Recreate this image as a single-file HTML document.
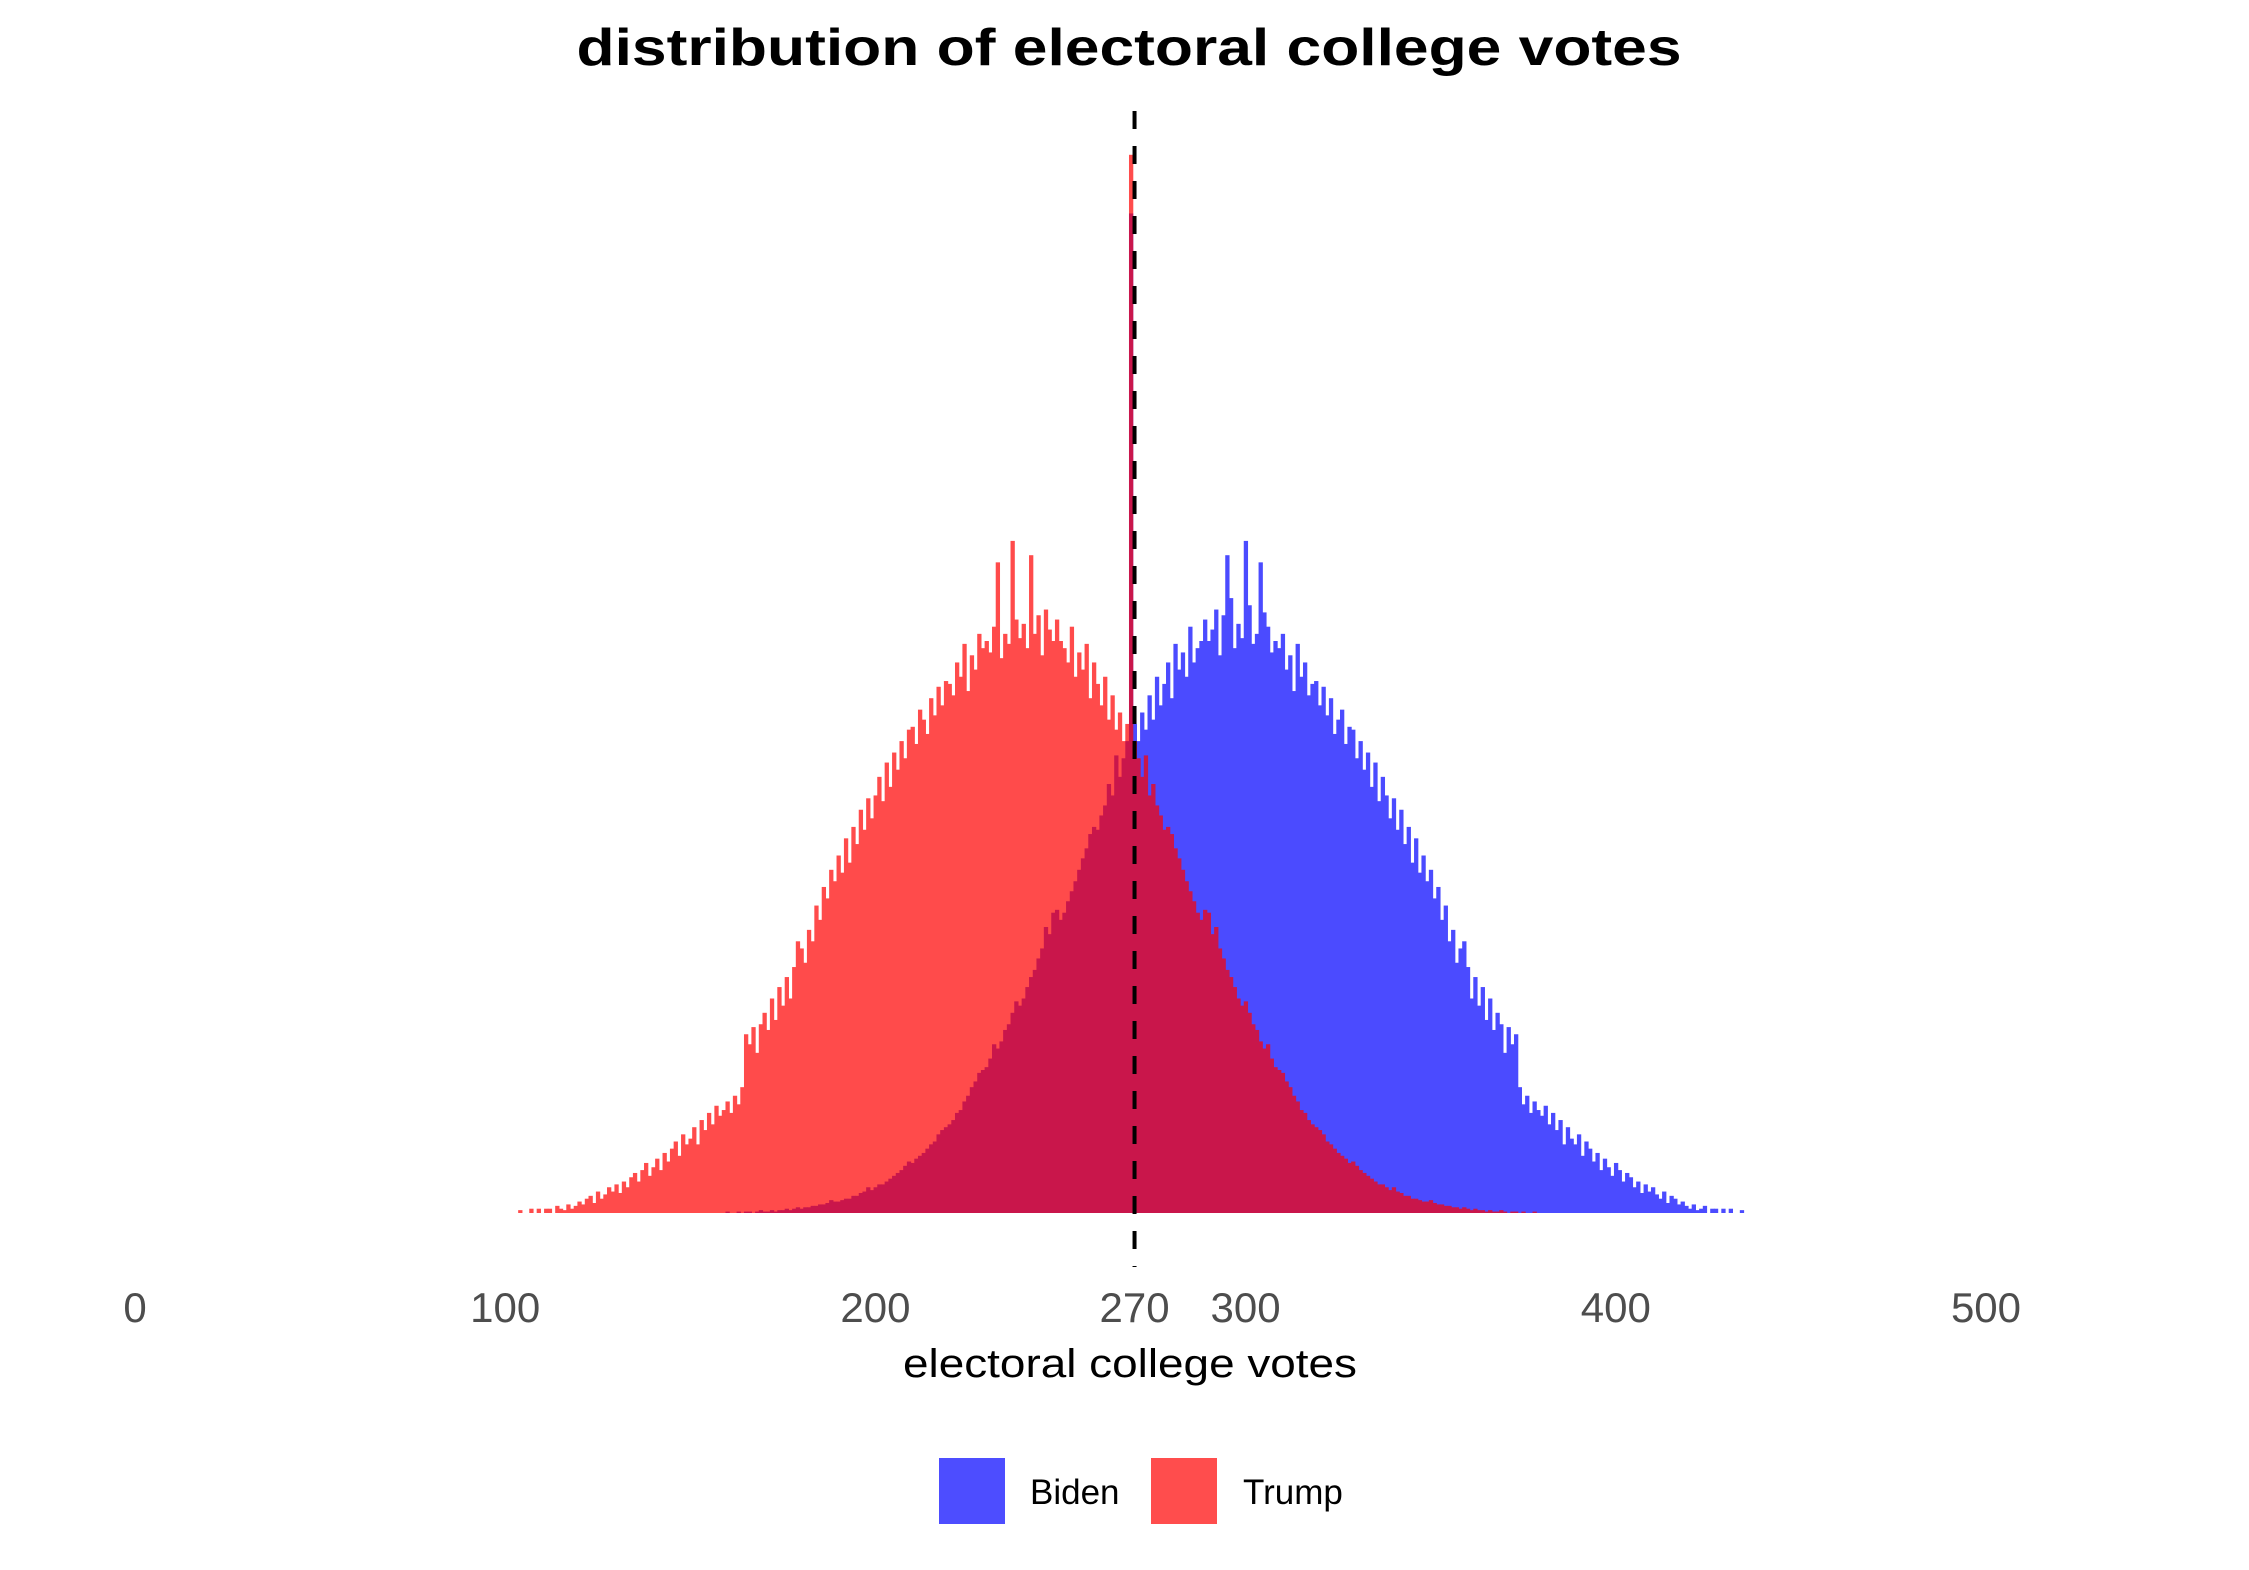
<!DOCTYPE html>
<html><head><meta charset="utf-8"><style>
html,body{margin:0;padding:0;background:#fff;}
svg{display:block;font-family:"Liberation Sans",Arial,sans-serif;}
</style></head><body>
<svg id="chart" width="2249" height="1570" viewBox="0 0 2249 1570" xmlns="http://www.w3.org/2000/svg">
<rect width="2249" height="1570" fill="#fff"/>
<text x="1129" y="65" text-anchor="middle" font-size="52" font-weight="bold" fill="#000" textLength="1105" lengthAdjust="spacingAndGlyphs">distribution of electoral college votes</text>
<g id="bars-biden" opacity="0.7"></g>
<g id="bars-trump" opacity="0.7"></g>
<line id="line270" y1="111" y2="1267" stroke="#000" stroke-width="4" stroke-dasharray="18,17"/>
<g id="ticks"></g>
<text x="1130" y="1377" text-anchor="middle" font-size="40" fill="#000" textLength="454" lengthAdjust="spacingAndGlyphs">electoral college votes</text>
<g>
<rect x="939" y="1458" width="66" height="66" fill="#4d4dff"/>
<text x="1030" y="1504" font-size="35" fill="#000">Biden</text>
<rect x="1151" y="1458" width="66" height="66" fill="#ff4d4d"/>
<text x="1243" y="1504" font-size="35" fill="#000">Trump</text>
</g>
</svg>
<script>
const trumpStart = 104;
const trumpCounts = [
2,0,0,3,0,3,
0,3,3,0,5,3,2,6,3,5,
8,6,10,12,7,15,10,13,18,15,
20,14,22,18,25,28,22,30,35,26,
32,38,30,42,36,45,50,40,55,48,
52,60,48,65,58,70,62,75,68,72,
78,70,82,76,88,125,118,130,112,132,
140,128,150,135,158,145,165,150,172,190,
185,175,198,190,215,205,228,220,240,232,
250,238,262,245,270,258,282,268,290,276,
292,305,288,315,298,322,310,330,318,338,
340,328,352,345,335,360,348,368,355,372,
370,362,385,375,398,365,390,380,405,395,
400,392,410,455,388,405,398,470,415,402,
412,395,460,405,418,390,422,408,400,415,
400,395,385,410,375,392,380,398,360,385,
370,355,375,345,362,338,350,330,342,740,
330,318,305,320,292,300,285,278,268,270,
265,255,248,240,232,225,218,210,205,212,
210,195,200,185,178,170,165,158,150,145,
148,140,132,128,120,115,118,108,102,100,
98,92,88,82,78,72,70,65,62,60,
58,55,50,48,45,42,40,38,35,36,
33,30,28,26,24,22,20,20,18,16,
18,15,14,12,12,10,10,9,8,8,
9,7,6,6,5,5,4,4,3,4,
3,2,3,2,2,1,2,1,1,2,
1,0,1,1,0,1,0,0,1,0
];
const bidenStart = 159;
const bidenCounts = [
0,1,0,0,1,0,1,1,0,1,
2,1,1,2,1,2,2,3,2,3,
4,3,4,4,5,5,6,6,7,9,
8,8,9,10,10,12,12,14,15,18,
16,18,20,20,22,24,26,28,30,33,
36,35,38,40,42,45,48,50,55,58,
60,62,65,70,72,78,82,88,92,98,
100,102,108,118,115,120,128,132,140,148,
145,150,158,165,170,178,185,200,195,210,
212,205,210,218,225,232,240,248,255,265,
270,268,278,285,300,292,320,305,318,330,
699,342,330,350,338,362,345,375,355,370,
385,360,398,380,392,375,410,385,395,400,
415,400,408,422,390,418,460,430,395,412,
402,470,425,398,405,455,420,410,392,400,
395,405,380,390,365,398,375,385,362,370,
372,355,368,348,360,335,345,352,328,340,
338,318,330,310,322,298,315,288,305,292,
276,290,268,282,258,270,245,262,238,250,
232,240,220,228,205,215,190,198,175,185,
190,172,150,165,145,158,135,150,128,140,
132,112,130,118,125,88,76,82,70,78,
72,68,75,62,70,58,65,48,60,52,
48,55,40,50,45,36,42,30,38,32,
26,35,30,22,28,25,18,22,14,20,
15,18,13,10,15,7,12,10,6,8,
5,3,6,2,3,5,0,3,3,0,
3,0,3,0,0,2
];
const tickValues = [0,100,200,270,300,400,500];
const tickLabels = ["0","100","200","270","300","400","500"];
const thresholdValue = 270;

const NS = "http://www.w3.org/2000/svg";
const xScale = v => 135 + 3.702 * v;
const baseY = 1213;
const yScale = c => baseY - c * 1.43;

function drawBars(groupId, start, counts, color, nameBase) {
  const g = document.getElementById(groupId);
  counts.forEach((c, i) => {
    if (c <= 0) return;
    const v = start + i;
    const x0 = xScale(v - 0.5), x1 = xScale(v + 0.5);
    const r = document.createElementNS(NS, "rect");
    r.setAttribute("x", x0.toFixed(2));
    r.setAttribute("width", (x1 - x0 + 0.6).toFixed(2));
    r.setAttribute("y", yScale(c).toFixed(2));
    r.setAttribute("height", (baseY - yScale(c)).toFixed(2));
    r.setAttribute("fill", color);
    
    
    g.appendChild(r);
  });
}
drawBars("bars-biden", bidenStart, bidenCounts, "#0000ff", "biden-bar");
drawBars("bars-trump", trumpStart, trumpCounts, "#ff0000", "trump-bar");

const ln = document.getElementById("line270");
ln.setAttribute("x1", xScale(thresholdValue));
ln.setAttribute("x2", xScale(thresholdValue));

const tg = document.getElementById("ticks");
tickValues.forEach((v, i) => {
  const t = document.createElementNS(NS, "text");
  t.setAttribute("x", xScale(v));
  t.setAttribute("y", 1322);
  t.setAttribute("text-anchor", "middle");
  t.setAttribute("font-size", "42");
  t.setAttribute("fill", "#4d4d4d");
  t.textContent = tickLabels[i];
  
  
  tg.appendChild(t);
});
</script>
</body></html>
